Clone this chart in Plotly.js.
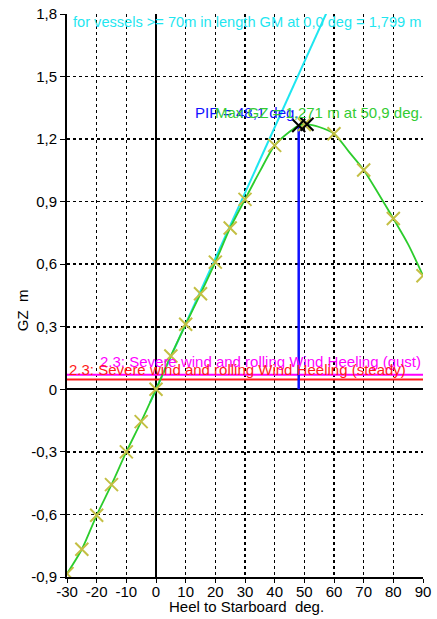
<!DOCTYPE html>
<html>
<head>
<meta charset="utf-8">
<script src="https://cdn.plot.ly/plotly-3.0.1.min.js"></script>
<style>
html,body{margin:0;padding:0;background:#fff;}
#chart{width:437px;height:619px;}
</style>
</head>
<body>
<div id="chart"></div>
<script>
// Marker points on the GZ curve
const heelPts = [-30,-25,-20,-15,-10,-5,0,5,10,15,20,25,30,40,50,60,70,80,90];
const gzPts   = [-0.884,-0.767,-0.604,-0.457,-0.300,-0.155,0,0.160,0.312,0.458,0.610,0.774,0.911,1.170,1.270,1.226,1.052,0.819,0.545];

// GZ curve (line)
const heelCurve = [-30,-25,-20,-15,-10,-5,0,5,10,15,20,25,30,35,40,45,48.1,50.9,55,60,65,70,75,80,85,90];
const gzCurve   = [-0.884,-0.767,-0.604,-0.457,-0.300,-0.155,0,0.160,0.312,0.458,0.610,0.774,0.911,1.045,1.170,1.235,1.265,1.271,1.258,1.226,1.140,1.052,0.938,0.819,0.695,0.545];

// GM line
const gmHeel = [-2, 58];
const gmGz   = [-0.063, 1.822];

// PIP
const pipHeel = [48.1, 48.1];
const pipGz   = [0, 1.265];

// Highlight points (PIP and Max GZ)
const keyHeel = [48.1, 50.9];
const keyGz   = [1.265, 1.271];

// Wind heeling lines
const windHeel = [-30, 90];
const gustGz   = [0.070, 0.070];
const steadyGz = [0.047, 0.047];

// Tick labels
const xTicks = [-30,-20,-10,0,10,20,30,40,50,60,70,80,90];
const xTickText = ["-30","-20","-10","0","10","20","30","40","50","60","70","80","90"];
const yTicks = [-0.9,-0.6,-0.3,0,0.3,0.6,0.9,1.2,1.5,1.8];
const yTickText = ["-0,9","-0,6","-0,3","0","0,3","0,6","0,9","1,2","1,5","1,8"];

const FONT = "Arial, 'Liberation Sans', sans-serif";

const traces = [
  {x: gmHeel, y: gmGz, mode: 'lines', line: {color: '#1ee6f0', width: 2}, hoverinfo: 'skip'},
  {x: windHeel, y: gustGz, mode: 'lines', line: {color: '#ff00ff', width: 2}, hoverinfo: 'skip'},
  {x: windHeel, y: steadyGz, mode: 'lines', line: {color: '#ff1a1a', width: 2}, hoverinfo: 'skip'},
  {x: pipHeel, y: pipGz, mode: 'lines', line: {color: '#1010ff', width: 2.5}, hoverinfo: 'skip'},
  {x: heelCurve, y: gzCurve, mode: 'lines', line: {color: '#2ccc2c', width: 1.8, shape: 'spline', smoothing: 0.8}, hoverinfo: 'skip'},
  {x: heelPts, y: gzPts, mode: 'markers', marker: {symbol: 'x-thin-open', size: 13, color: '#c4bf44', line: {color: '#c4bf44', width: 2}}, hoverinfo: 'skip'},
  {x: keyHeel, y: keyGz, mode: 'markers', marker: {symbol: 'x-thin-open', size: 13, color: '#000', line: {color: '#000', width: 2}}, hoverinfo: 'skip'}
];

const layout = {
  width: 437, height: 619,
  margin: {l: 67, r: 14, t: 14, b: 42},
  paper_bgcolor: '#fff', plot_bgcolor: '#fff',
  showlegend: false,
  font: {family: FONT, size: 15, color: '#000'},
  xaxis: {
    range: [-30, 90], tickvals: xTicks, ticktext: xTickText,
    showgrid: true, gridcolor: '#000', griddash: 'dot', gridwidth: 1.5,
    zeroline: true, zerolinecolor: '#000', zerolinewidth: 2,
    showline: true, linecolor: '#000', linewidth: 2,
    ticks: 'outside', ticklen: 4, tickcolor: '#000', ticklabelstandoff: -4,
    tickfont: {family: FONT, size: 15, color: '#000'},
    automargin: false
  },
  yaxis: {
    range: [-0.9, 1.8], tickvals: yTicks, ticktext: yTickText,
    showgrid: true, gridcolor: '#000', griddash: 'dot', gridwidth: 1.5,
    zeroline: true, zerolinecolor: '#000', zerolinewidth: 2,
    showline: true, linecolor: '#000', linewidth: 2,
    ticks: 'outside', ticklen: 5, tickcolor: '#000',
    tickfont: {family: FONT, size: 15, color: '#000'},
    automargin: false
  },
  annotations: [
    {x: 0.503, y: -0.052, xref: 'paper', yref: 'paper', xanchor: 'center', yanchor: 'middle',
     text: 'Heel to Starboard  deg.', showarrow: false,
     font: {family: FONT, size: 15, color: '#000'}},
    {x: -0.126, y: 0.474, xref: 'paper', yref: 'paper', xanchor: 'center', yanchor: 'middle', textangle: -90,
     text: 'GZ  m', showarrow: false,
     font: {family: FONT, size: 15, color: '#000'}},
    {x: 90, y: 1.8, xref: 'x', yref: 'y', xanchor: 'right', yanchor: 'top', yshift: 2,
     text: 'for vessels >= 70m in length GM at 0,0 deg = 1,799 m', showarrow: false,
     font: {family: FONT, size: 14.6, color: '#1ee6f0'}},
    {x: 48.1, y: 1.265, xref: 'x', yref: 'y', xanchor: 'right', yanchor: 'bottom', xshift: 2, yshift: 3,
     text: 'PIP = 48,1 deg.', showarrow: false,
     font: {family: FONT, size: 15, color: '#1010ff'}},
    {x: 90, y: 1.265, xref: 'x', yref: 'y', xanchor: 'right', yanchor: 'bottom', xshift: 2, yshift: 3,
     text: 'Max GZ = 1,271 m at 50,9 deg.', showarrow: false,
     font: {family: FONT, size: 15, color: '#33cc33'}},
    {x: 90, y: 0.070, xref: 'x', yref: 'y', xanchor: 'right', yanchor: 'bottom', yshift: 3,
     text: '2.3: Severe wind and rolling Wind Heeling (gust)', showarrow: false,
     font: {family: FONT, size: 15, color: '#ff00ff'}},
    {x: -30, y: 0.047, xref: 'x', yref: 'y', xanchor: 'left', yanchor: 'bottom', yshift: 0,
     text: '2.3: Severe wind and rolling Wind Heeling (steady)', showarrow: false,
     font: {family: FONT, size: 15, color: '#ff1a1a'}}
  ]
};

Plotly.newPlot('chart', traces, layout, {staticPlot: true, displayModeBar: false});
</script>
</body>
</html>
